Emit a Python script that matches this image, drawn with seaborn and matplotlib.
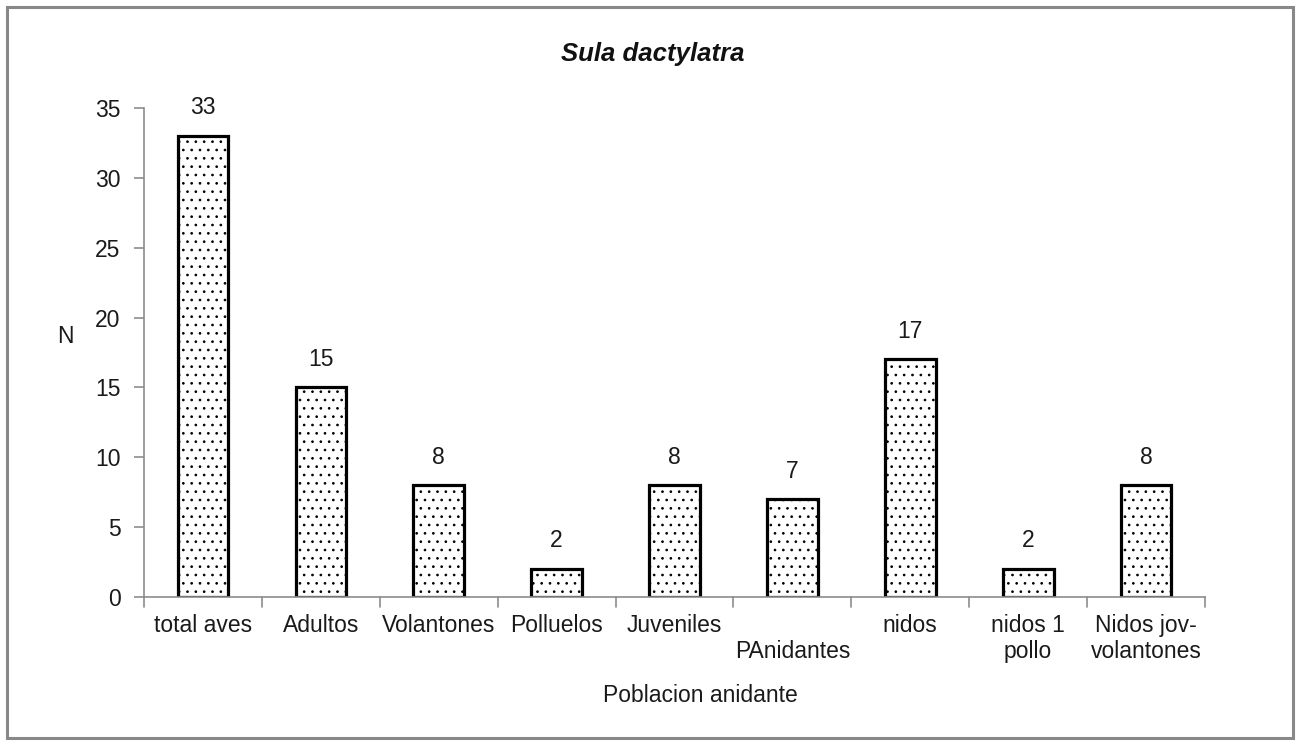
import matplotlib
matplotlib.use("Agg")
import matplotlib.pyplot as plt
import matplotlib.patches as mpatches
import seaborn as sns
import pandas as pd

categories = ["total aves", "Adultos", "Volantones", "Polluelos", "Juveniles",
              "PAnidantes", "nidos", "nidos 1 pollo", "Nidos jov-volantones"]
values = [33, 15, 8, 2, 8, 7, 17, 2, 8]
tick_labels = ["total aves", "Adultos", "Volantones", "Polluelos", "Juveniles",
               "\nPAnidantes", "nidos", "nidos 1\npollo", "Nidos jov-\nvolantones"]
y_ticks = [0, 5, 10, 15, 20, 25, 30, 35]

sns.set_theme(style="white")
plt.rcParams["font.family"] = ["Liberation Sans", "DejaVu Sans"]
plt.rcParams["hatch.linewidth"] = 0.7
plt.rcParams["hatch.color"] = "#333333"

FS = 16.5
TXT = "#1a1a1a"
AX = "#8c8c8c"

df = pd.DataFrame({"cat": categories, "n": values})

fig = plt.figure(figsize=(13.01, 7.44), dpi=100)
ax = fig.add_axes([0.1107, 0.1976, 0.8155, 0.6573])

sns.barplot(data=df, x="cat", y="n", ax=ax, color="white", width=0.43,
            edgecolor="black", linewidth=2.3, hatch="..", saturation=1)

ax.set_ylim(0, 35)
ax.set_xlim(-0.5, len(categories) - 0.5)
ax.set_yticks(y_ticks)
ax.set_yticklabels([str(t) for t in y_ticks], fontsize=FS, color=TXT)
ax.set_xticks(range(len(categories)))
ax.set_xticklabels(tick_labels, fontsize=FS, color=TXT, linespacing=1.2)
ax.tick_params(axis="x", length=0, pad=12)
ax.tick_params(axis="y", length=7, width=1.2, color=AX, direction="out",
               pad=10, left=True)

# category separators on the x axis
for b in range(len(categories) + 1):
    ax.plot([b - 0.5, b - 0.5], [0, -0.02], transform=ax.get_xaxis_transform(),
            color=AX, lw=1.2, clip_on=False)

for s in ["top", "right"]:
    ax.spines[s].set_visible(False)
for s in ["left", "bottom"]:
    ax.spines[s].set_color(AX)
    ax.spines[s].set_linewidth(1.2)

for i, v in enumerate(values):
    ax.annotate(str(v), (i, v), xytext=(0, 12), textcoords="offset points",
                ha="center", va="bottom", fontsize=FS, color=TXT)

ax.set_xlabel("Poblacion anidante", fontsize=FS, color=TXT)
ax.xaxis.set_label_coords((700 - 144) / (1205 - 144), -0.178)
ax.set_ylabel("N", fontsize=FS, color=TXT, rotation=0)
ax.yaxis.set_label_coords((65 - 144) / (1205 - 144), 0.509)

fig.text(653 / 1301, 1 - 54 / 744, "Sula dactylatra", fontsize=18.5,
         fontweight="bold", fontstyle="italic", ha="center", va="center",
         color="#111111")

fig.patches.append(mpatches.Rectangle((7 / 1301, 6 / 744), 1286 / 1301, 731 / 744,
                                      transform=fig.transFigure, fill=False,
                                      edgecolor="#888888", lw=2.2))

fig.savefig("out.png", dpi=100)
